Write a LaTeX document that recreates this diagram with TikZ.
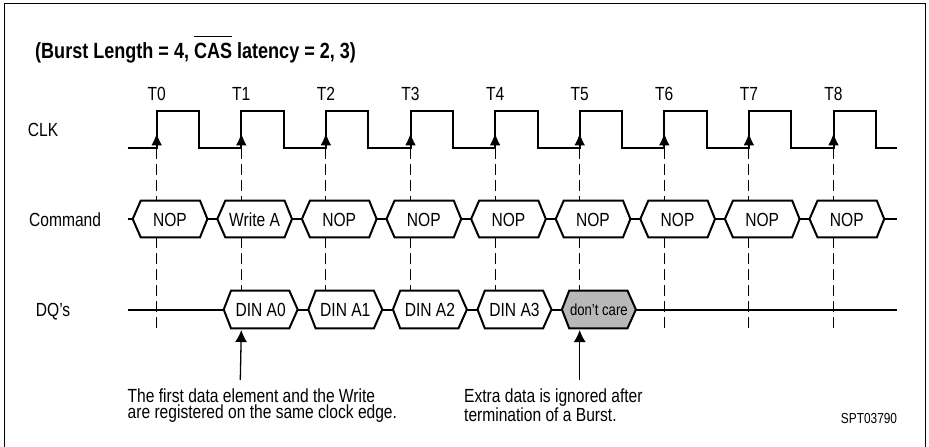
\documentclass[tikz,border=0pt]{standalone}
\usepackage{fontspec}
\setmainfont{Liberation Sans}[FakeStretch=0.82]
\usetikzlibrary{arrows.meta}

\newlength\barwd
\newcommand\casbar[1]{\settowidth\barwd{#1}\rlap{\rule[21.3pt]{\barwd}{1.3pt}}#1}

\begin{document}
\begin{tikzpicture}[x=1pt, y=-1pt,
  sig/.style={line width=2pt},
  guide/.style={line width=1pt, dash pattern=on 11pt off 5pt},
  cell/.style={sig, fill=white, line join=miter},
  lbl/.style={font=\fontsize{19}{16}\selectfont, inner sep=0pt},
  edgetip/.style={-{Latex[length=12pt,width=10.5pt]}, line width=1pt},
  pointer/.style={-{Latex[length=12pt,width=12pt]}, line width=1.3pt}]

  \useasboundingbox (0,0) rectangle (929,447);
  % Draw frame
  \draw[line width=1.3pt] (4.5,447) -- (4.5,3.5) -- (925.5,3.5) -- (925.5,447);

  % Title
  \node[inner sep=0pt, font=\bfseries\fontsize{22}{26}\selectfont, anchor=base west] (title) at (35,58.3)
    {(Burst Length = 4, \casbar{CAS} latency = 2, 3)};

  % Row labels
  \node[lbl, anchor=base west] (clk) at (27.7,136.7) {CLK};
  \node[lbl, anchor=base west] (cmd) at (29,226.5) {Command};
  \node[lbl, anchor=base west] (dq) at (35.7,316.5) {DQ’s};

  % Clock
  \draw[sig] (127.7,148) \foreach \i in {0,...,8}{ -- ({156.7+84.6*\i},148) -- ++(0,-37.3) -- ++(42.5,0) -- ++(0,37.3)} -- (896.7,148);

  % Clock edges, names and guides
  \foreach \i in {0,...,8}{
    \coordinate (t\i) at ({156.7+84.6*\i},148);
    \node[lbl, anchor=base] (tn\i) at ({156.7+84.6*\i},100) {T\i};
    \draw[edgetip] (t\i) -- ++(0,-14.7);
    \draw[guide] (t\i) -- ++(0,52.7);
  }
  \foreach \i in {0,6,7,8}
    \draw[guide] ({156.7+84.6*\i},237.3) -- ({156.7+84.6*\i},328.5);
  \foreach \i in {1,...,5}
    \draw[guide] ({156.7+84.6*\i},237.3) -- ({156.7+84.6*\i},290.7);

  % Command bus
  \draw[sig] (127.7,219) -- (896.7,219);
  \foreach \i/\txt in {0/NOP,1/Write A,2/NOP,3/NOP,4/NOP,5/NOP,6/NOP,7/NOP,8/NOP}{
    \pgfmathsetmacro\tx{156.7+84.6*\i}
    \draw[cell] ({\tx-24},219) -- ({\tx-16},200.7) -- ({\tx+43.3},200.7) -- ({\tx+50.7},219)
      -- ({\tx+43.3},237.3) -- ({\tx-16},237.3) -- cycle;
    \node[lbl, anchor=base] (c\i) at ({\tx+13.3},226) {\txt};
  }

  % DQ bus
  \draw[sig] (127.7,309.5) -- (896.7,309.5);
  \foreach \i/\txt/\shade in {1/DIN A0/white,2/DIN A1/white,3/DIN A2/white,4/DIN A3/white}{
    \pgfmathsetmacro\tx{156.7+84.6*\i}
    \draw[cell, fill=\shade] ({\tx-17.6},309.5) -- ({\tx-10.3},290.7) -- ({\tx+48},290.7) -- ({\tx+56.4},309.5)
      -- ({\tx+48},328.3) -- ({\tx-10.3},328.3) -- cycle;
    \node[lbl, anchor=base] (d\i) at ({\tx+19.4},316) {\txt};
    \coordinate (db\i) at (\tx,330);
  }
  \draw[cell, fill=black!28] (561.9,309.5) -- (569.2,290.7) -- (627.5,290.7) -- (635.9,309.5)
    -- (627.5,328.3) -- (569.2,328.3) -- cycle;
  \node[inner sep=0pt, font=\fontsize{16}{18}\selectfont, anchor=base] (d5) at (598.9,315) {don’t care};
  \coordinate (db5) at (579.7,330);

  % Notes
  \node[lbl, align=left, anchor=north west] (note1) at (127.5,388.5)
    {The first data element and the Write\\are registered on the same clock edge.};
  \node[lbl, align=left, anchor=north west] (note2) at (464,388.5)
    {Extra data is ignored after\\termination of a Burst.};
  \coordinate (pa) at (240.3,380);
  \coordinate (pb) at (579.7,380);
  \draw[pointer] (pa) -- (db1);
  \draw[pointer] (pb) -- (db5);

  \node[inner sep=0pt, font=\fontsize{14.5}{16}\selectfont, anchor=base east] (code) at (897.3,423) {SPT03790};
\end{tikzpicture}
\end{document}
